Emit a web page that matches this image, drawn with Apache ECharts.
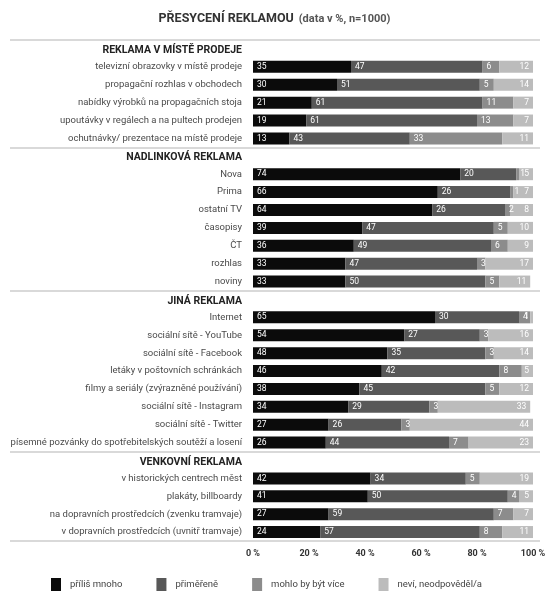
<!DOCTYPE html>
<html>
<head>
<meta charset="utf-8">
<script src="https://cdn.jsdelivr.net/npm/echarts@6/dist/echarts.min.js"></script>
<style>html,body{margin:0;padding:0;background:#fff;}#c{width:549px;height:591px;}</style>
</head>
<body>
<div id="c"></div>
<script>
const headers = ["REKLAMA V MÍSTĚ PRODEJE", "NADLINKOVÁ REKLAMA", "JINÁ REKLAMA", "VENKOVNÍ REKLAMA"];
const sectionSizes = [5, 7, 8, 4];
const categories = [
  "televizní obrazovky v místě prodeje",
  "propagační rozhlas v obchodech",
  "nabídky výrobků na propagačních stoja",
  "upoutávky v regálech a na pultech prodejen",
  "ochutnávky/ prezentace na místě prodeje",
  "Nova", "Prima", "ostatní TV", "časopisy", "ČT", "rozhlas", "noviny",
  "Internet",
  "sociální sítě - YouTube",
  "sociální sítě - Facebook",
  "letáky v poštovních schránkách",
  "filmy a seriály (zvýrazněné používání)",
  "sociální sítě - Instagram",
  "sociální sítě - Twitter",
  "písemné pozvánky do spotřebitelských soutěží a losení",
  "v historických centrech měst",
  "plakáty, billboardy",
  "na dopravních prostředcích (zvenku tramvaje)",
  "v dopravních prostředcích (uvnitř tramvaje)"
];
const seriesNames = ["příliš mnoho", "přiměřeně", "mohlo by být více", "neví, neodpověděl/a"];
const tooMuch    = [35, 30, 21, 19, 13, 74, 66, 64, 39, 36, 33, 33, 65, 54, 48, 46, 38, 34, 27, 26, 42, 41, 27, 24];
const adequate   = [47, 51, 61, 61, 43, 20, 26, 26, 47, 49, 47, 50, 30, 27, 35, 42, 45, 29, 26, 44, 34, 50, 59, 57];
const couldMore  = [ 6,  5, 11, 13, 33,  1,  1,  2,  5,  6,  3,  5,  4,  3,  3,  8,  5,  3,  3,  7,  5,  4,  7,  8];
const dontKnow   = [12, 14,  7,  7, 11,  5,  7,  8, 10,  9, 17, 11,  1, 16, 14,  5, 12, 33, 44, 23, 19,  5,  7, 11];
const colors = ["#0b0b0b", "#585858", "#8c8c8c", "#bcbcbc"];

// build combined axis with header slots
const axisCats = [];
const headerIdx = [];
const rows = [[], [], [], []];
const src = [tooMuch, adequate, couldMore, dontKnow];
let k = 0;
sectionSizes.forEach((n, s) => {
  headerIdx.push(axisCats.length);
  axisCats.push(headers[s]);
  rows.forEach(r => r.push(null));
  for (let i = 0; i < n; i++) {
    axisCats.push(categories[k]);
    rows.forEach((r, j) => r.push(src[j][k]));
    k++;
  }
});
const headerSet = new Set(headers);

const FONT = 'Roboto, "Noto Sans", sans-serif';
const gridTop = 40, gridBottom = 50;

const series = seriesNames.map((name, j) => ({
  name: name,
  type: 'bar',
  stack: 'all',
  xAxisIndex: 0,
  yAxisIndex: 0,
  barWidth: 12,
  clip: true,
  itemStyle: { color: colors[j] },
  label: {
    show: true,
    position: j === 3 ? 'insideRight' : 'insideLeft',
    distance: 4,
    color: '#fff',
    fontSize: 8.5,
    fontFamily: FONT,
    formatter: p => (p.value == null ? '' : String(p.value))
  },
  emphasis: { disabled: true },
  data: rows[j]
}));

const chart = echarts.init(document.getElementById('c'), null, { renderer: 'canvas' });
chart.setOption({
  backgroundColor: '#fff',
  animation: false,
  title: {
    left: 'center',
    top: 5,
    text: '{b|PŘESYCENÍ REKLAMOU} {n|(data v %, n=1000)}',
    textStyle: {
      rich: {
        b: { fontFamily: FONT, fontWeight: 'bold', fontSize: 12.5, color: '#333' },
        n: { fontFamily: FONT, fontSize: 11, color: '#555' }
      }
    }
  },
  legend: {
    left: 46,
    top: 573,
    icon: 'rect',
    itemWidth: 10,
    itemHeight: 13,
    itemGap: 34,
    textStyle: { fontFamily: FONT, fontSize: 9.5, color: '#444', padding: [0, 0, 0, 4] },
    data: seriesNames
  },
  grid: [
    { left: 253, right: 16, top: gridTop, bottom: gridBottom },
    { left: 10, right: 9, top: gridTop, bottom: gridBottom }
  ],
  xAxis: [
    {
      gridIndex: 0, type: 'value', min: 0, max: 100, interval: 20,
      axisLine: { show: false }, axisTick: { show: false }, splitLine: { show: false },
      axisLabel: { formatter: '{value} %', fontFamily: FONT, fontWeight: 'bold', fontSize: 9, color: '#333', margin: 8 }
    },
    { gridIndex: 1, type: 'value', show: false }
  ],
  yAxis: [
    {
      gridIndex: 0, type: 'category', inverse: true, data: axisCats,
      axisLine: { show: false }, axisTick: { show: false }, splitLine: { show: false },
      axisLabel: {
        margin: 11,
        interval: 0,
        formatter: v => headerSet.has(v) ? '{h|' + v + '}' : '{c|' + v + '}',
        rich: {
          h: { fontFamily: FONT, fontWeight: 'bold', fontSize: 10.5, color: '#222', padding: [3, 0, 0, 0] },
          c: { fontFamily: FONT, fontSize: 9.5, color: '#4a4a4a' }
        }
      }
    },
    {
      gridIndex: 1, type: 'category', inverse: true, data: axisCats,
      axisLine: { show: false }, axisTick: { show: false }, axisLabel: { show: false },
      splitLine: {
        show: true,
        interval: (idx) => headerIdx.indexOf(idx) >= 0,
        lineStyle: { color: '#cccccc', width: 1.5 }
      }
    }
  ],
  series: series
});
</script>
</body>
</html>
